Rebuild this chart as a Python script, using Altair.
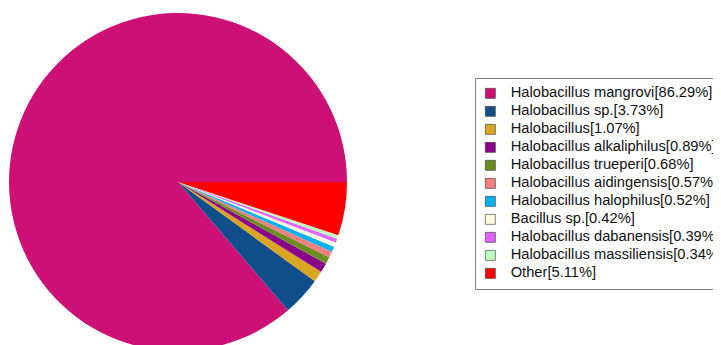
import altair as alt
import pandas as pd

names = ["Halobacillus mangrovi", "Halobacillus sp.", "Halobacillus",
         "Halobacillus alkaliphilus", "Halobacillus trueperi",
         "Halobacillus aidingensis", "Halobacillus halophilus", "Bacillus sp.",
         "Halobacillus dabanensis", "Halobacillus massiliensis", "Other"]
percents = [86.29, 3.73, 1.07, 0.89, 0.68, 0.57, 0.52, 0.42, 0.39, 0.34, 5.11]
colors = ["#CD1076", "#104E8B", "#DAA520", "#8B008B", "#6B8E23", "#F08080",
          "#00B2EE", "#FFF8DC", "#E066FF", "#C1FFC1", "#FF0000"]

labels = [f"{n}[{p:.2f}%]" for n, p in zip(names, percents)]
df = pd.DataFrame({"label": labels, "value": percents,
                   "order": [len(labels) - 1 - i for i in range(len(labels))]})

pi = 3.141592653589793

chart = alt.Chart(df).mark_arc(radius=169).encode(
    x=alt.value(170),
    y=alt.value(174),
    theta=alt.Theta("value:Q", stack=True,
                    scale=alt.Scale(range=[pi / 2, 5 * pi / 2])),
    order=alt.Order("order:Q", sort="ascending"),
    color=alt.Color(
        "label:N",
        sort=labels,
        scale=alt.Scale(domain=labels, range=colors),
        legend=alt.Legend(
            orient="none", legendX=467, legendY=70, title=None,
            symbolType="square", symbolSize=100,
            symbolStrokeColor="#333333", symbolStrokeWidth=0.6,
            labelFont="Liberation Sans", labelFontSize=14.7,
            labelColor="#111111", labelLimit=400, labelOffset=13,
            rowPadding=2.0, padding=8,
            strokeColor="#808080", fillColor="white",
        ),
    ),
).properties(
    width=705, height=337, padding=0,
    autosize=alt.AutoSizeParams(type="none"),
).configure_view(stroke=None)

chart.save("out.html", embed_options={"renderer": "svg", "actions": False})
